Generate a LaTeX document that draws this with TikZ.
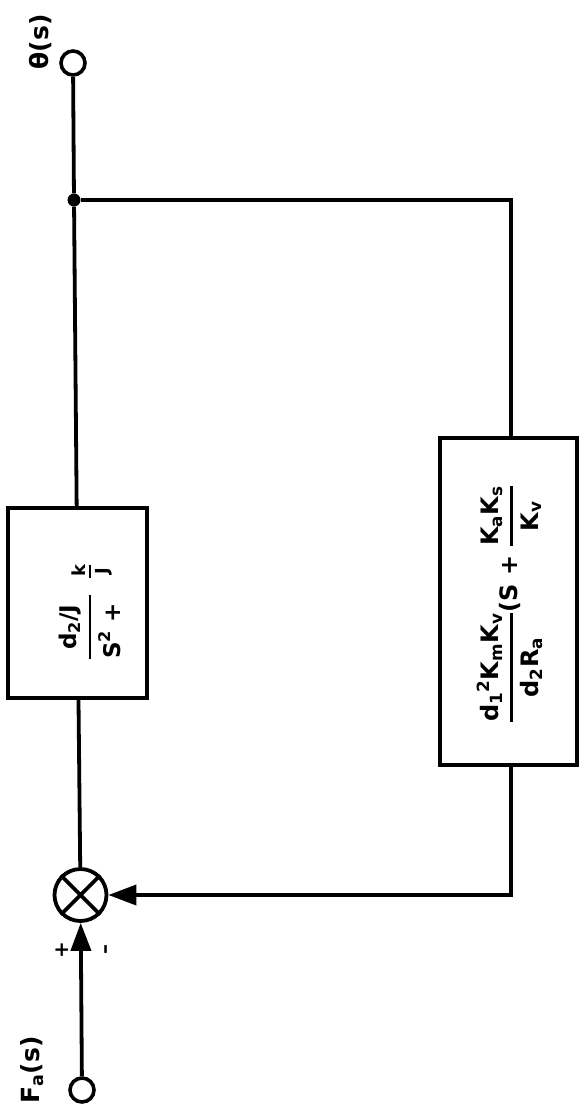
\documentclass[tikz,border=0pt]{standalone}
\usepackage{fontspec}
\usepackage{amsmath}
\setmainfont{DejaVu Sans}
\usetikzlibrary{arrows.meta}

\begin{document}
\begin{tikzpicture}[x=1pt,y=-1pt,
  wire/.style={line width=3.8pt},
  feed/.style={wire,-{Triangle[length=28pt,width=20pt]}},
  blockbox/.style={draw,line width=4pt,inner sep=0pt},
  port/.style={circle,draw,line width=3.6pt,minimum size=24pt,inner sep=0pt,fill=white},
  tapdot/.style={circle,fill,minimum size=13pt,inner sep=0pt},
  summer/.style={circle,draw,line width=3.8pt,minimum size=52pt,inner sep=0pt},
  lbl/.style={rotate=90,inner sep=0pt,font=\bfseries\fontsize{25}{27}\selectfont},
  small/.style={font=\bfseries\fontsize{20}{22}\selectfont}]

\useasboundingbox (0,0) rectangle (579,1114);

% signal nodes
\node[port] (out) at (73,63) {};
\node[tapdot] (tap) at (74,200) {};
\node[blockbox,minimum width=139pt,minimum height=190pt] (plant) at (77.5,603) {};
\node[summer] (sum) at (80.5,895) {};
\node[port] (in) at (82,1090) {};
\node[blockbox,minimum width=137pt,minimum height=327pt] (fb) at (508.5,601.5) {};
\coordinate (ftop) at (511,200);
\coordinate (fbot) at (511,895);

% cross inside the summing point
\draw[line width=3.6pt] (sum.north east) -- (sum.south west)
                        (sum.north west) -- (sum.south east);

% forward path
\draw[wire] (out) -- (tap);
\draw[wire] (tap) -- (plant);
\draw[wire] (plant) -- (sum);
\draw[feed] (in) -- (sum);

% feedback path
\draw[wire] (tap) -- (ftop) -- (fb.north -| ftop);
\draw[feed] (fb.south -| fbot) -- (fbot) -- (sum);

% transfer functions
\node[lbl,font=\bfseries\fontsize{23}{25}\selectfont] (tplant) at (90,627)
  {$\genfrac{}{}{2.4pt}{0}{\text{d}_{\text{2}}\text{/J}}{\text{S}^{\text{2}}\text{ + }}$};
\node[lbl,font=\bfseries\fontsize{18}{20}\selectfont] (tkj) at (92,571)
  {\shortstack{k\\[1pt]\rule{13pt}{2pt}\\[1pt]J}};
\node[lbl,font=\bfseries\fontsize{24}{26}\selectfont] (tfb) at (510,604)
  {$\genfrac{}{}{2.6pt}{0}{\text{d}_{\text{1}}{}^{\text{2}}\text{K}_{\text{m}}\text{K}_{\text{v}}}{\text{d}_{\text{2}}\text{R}_{\text{a}}}%
    \text{(S + }\genfrac{}{}{2.6pt}{0}{\text{K}_{\text{a}}\text{K}_{\text{s}}}{\text{K}_{\text{v}}}$};

% signal labels and signs
\node[lbl] (thl) at (41,42) {θ(s)};
\node[lbl] (fal) at (32,1070) {F$_{\text{a}}$(s)};
\node[lbl,small] (plus) at (62,950) {+};
\node[lbl,small] (minus) at (108,949) {–};
\end{tikzpicture}
\end{document}
